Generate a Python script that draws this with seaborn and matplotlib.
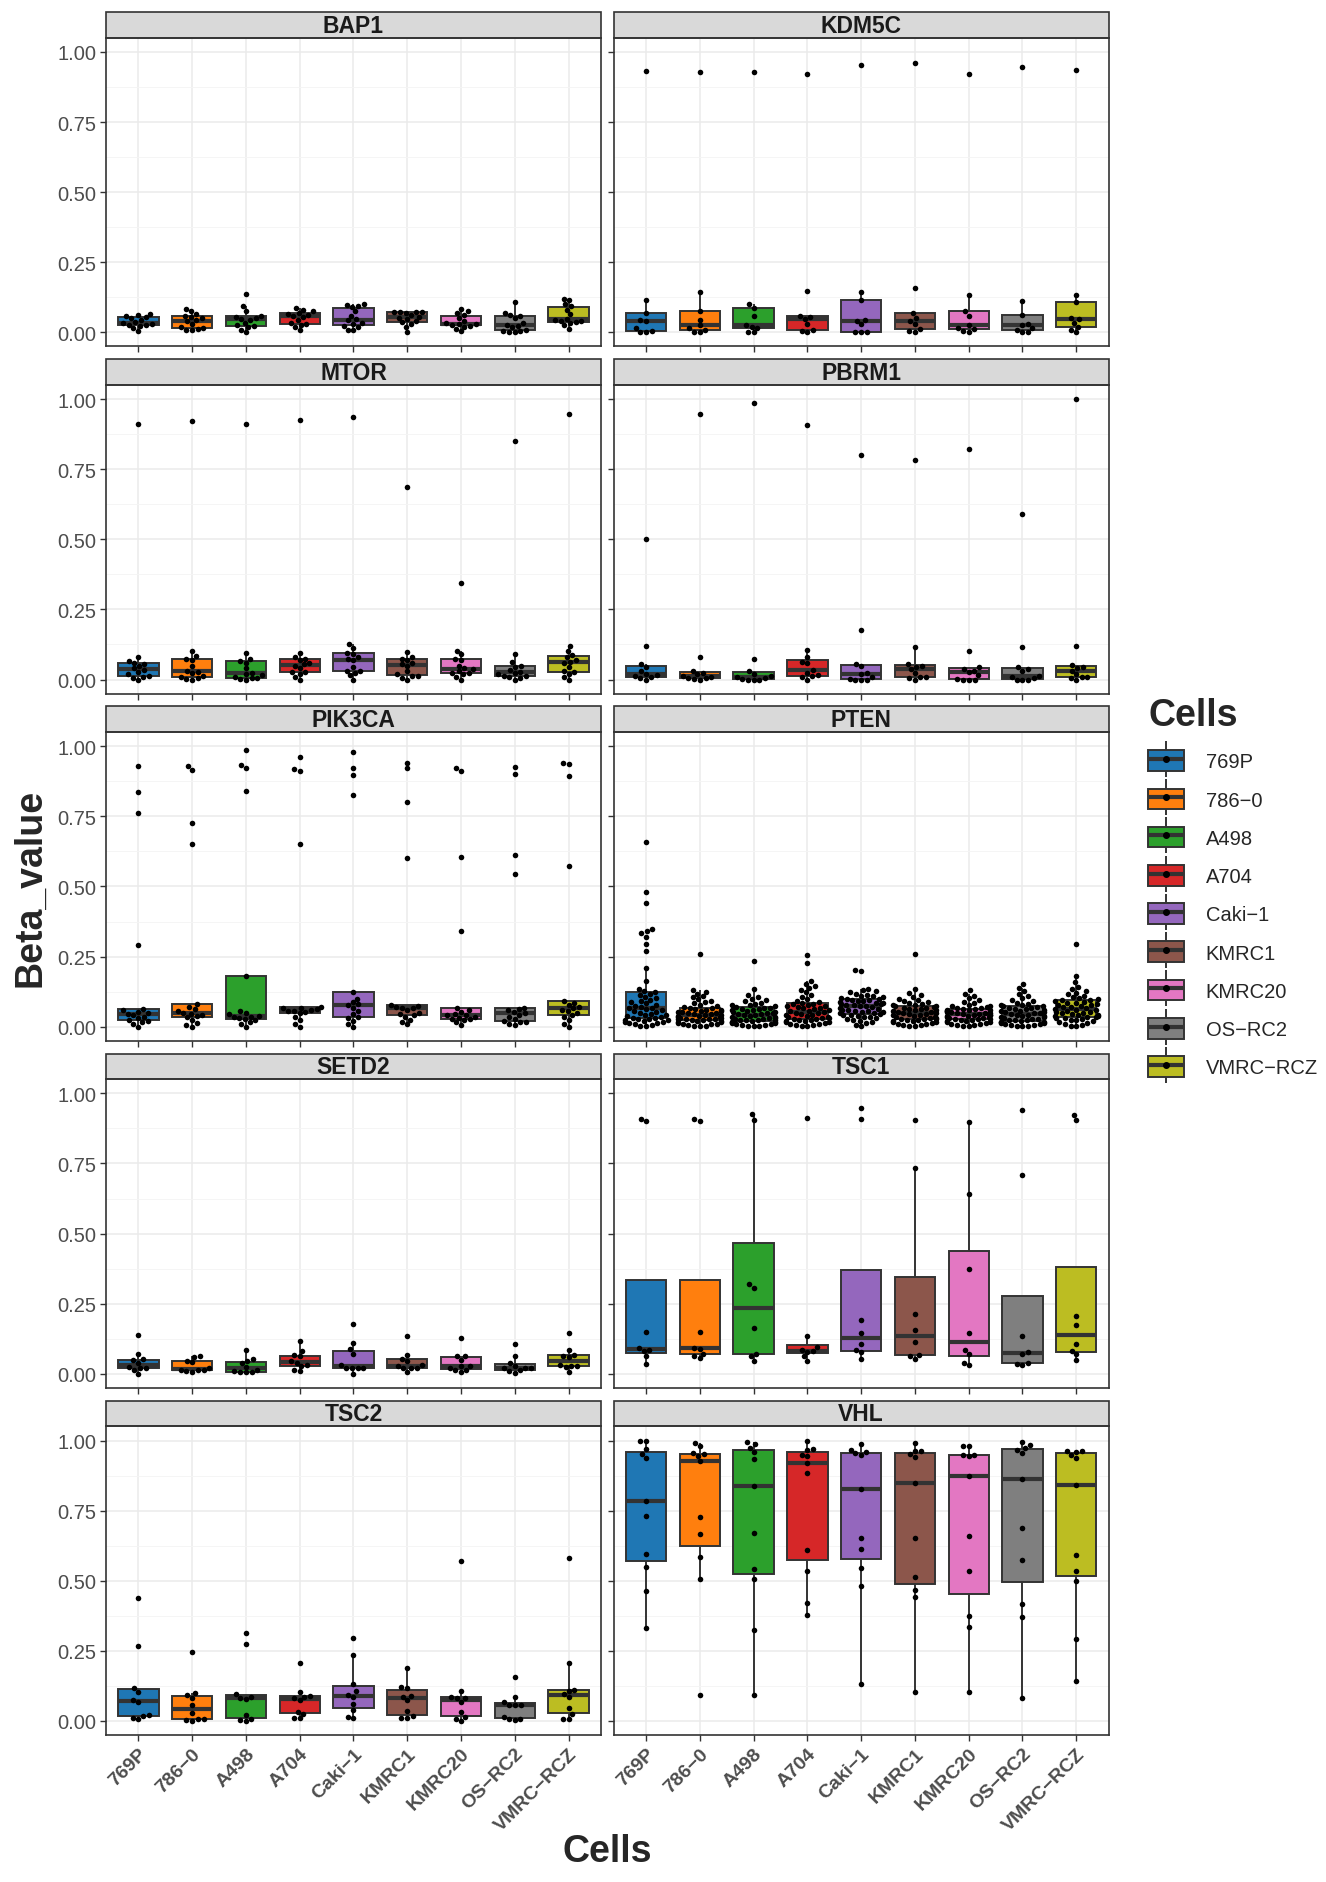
import numpy as np
import pandas as pd
import seaborn as sns
import matplotlib.pyplot as plt
from matplotlib.patches import Patch, Rectangle
from matplotlib.lines import Line2D

# cell lines and their fill colours (d3 palette)
cells = ['769P', '786−0', 'A498', 'A704', 'Caki−1', 'KMRC1', 'KMRC20', 'OS−RC2', 'VMRC−RCZ']
colors = ['#1F77B4', '#FF7F0E', '#2CA02C', '#D62728', '#9467BD',
          '#8C564B', '#E377C2', '#7F7F7F', '#BCBD22']
genes = ['BAP1', 'KDM5C', 'MTOR', 'PBRM1', 'PIK3CA', 'PTEN', 'SETD2', 'TSC1', 'TSC2', 'VHL']

# beta values per probe, one list per cell line (order as in `cells`)
bap1 = [
    [0.005, 0.015, 0.024, 0.027, 0.028, 0.030, 0.032, 0.036, 0.045, 0.050, 0.055, 0.058, 0.062, 0.066],
    [0.007, 0.010, 0.013, 0.015, 0.018, 0.030, 0.040, 0.044, 0.050, 0.055, 0.058, 0.065, 0.075, 0.084],
    [0.000, 0.010, 0.018, 0.022, 0.025, 0.035, 0.045, 0.049, 0.052, 0.055, 0.058, 0.078, 0.095, 0.138],
    [0.007, 0.020, 0.028, 0.031, 0.034, 0.045, 0.055, 0.059, 0.062, 0.065, 0.069, 0.075, 0.080, 0.087],
    [0.007, 0.010, 0.020, 0.024, 0.030, 0.035, 0.043, 0.047, 0.060, 0.075, 0.092, 0.095, 0.098, 0.101],
    [0.001, 0.020, 0.030, 0.036, 0.040, 0.048, 0.052, 0.056, 0.062, 0.068, 0.072, 0.073, 0.073, 0.074],
    [0.004, 0.012, 0.020, 0.024, 0.027, 0.029, 0.030, 0.032, 0.040, 0.050, 0.062, 0.068, 0.075, 0.084],
    [0.000, 0.002, 0.004, 0.006, 0.010, 0.018, 0.024, 0.026, 0.035, 0.050, 0.059, 0.062, 0.068, 0.110],
    [0.011, 0.025, 0.032, 0.036, 0.040, 0.042, 0.045, 0.049, 0.065, 0.080, 0.093, 0.100, 0.115, 0.119],
]
kdm5c = [
    [0.000, 0.002, 0.004, 0.015, 0.042, 0.045, 0.068, 0.114, 0.933],
    [0.000, 0.003, 0.007, 0.015, 0.025, 0.045, 0.075, 0.145, 0.928],
    [0.000, 0.002, 0.015, 0.020, 0.025, 0.060, 0.087, 0.101, 0.929],
    [0.000, 0.004, 0.009, 0.030, 0.048, 0.055, 0.060, 0.148, 0.922],
    [0.000, 0.000, 0.000, 0.030, 0.042, 0.045, 0.115, 0.143, 0.954],
    [0.000, 0.005, 0.012, 0.030, 0.042, 0.050, 0.068, 0.160, 0.962],
    [0.000, 0.004, 0.011, 0.015, 0.025, 0.060, 0.075, 0.133, 0.923],
    [0.000, 0.000, 0.007, 0.015, 0.025, 0.030, 0.062, 0.113, 0.946],
    [0.000, 0.010, 0.019, 0.035, 0.048, 0.050, 0.107, 0.133, 0.936],
]
mtor = [
    [0.000, 0.005, 0.010, 0.012, 0.018, 0.028, 0.035, 0.040, 0.048, 0.055, 0.060, 0.065, 0.079, 0.913],
    [0.000, 0.002, 0.006, 0.008, 0.012, 0.022, 0.028, 0.032, 0.050, 0.070, 0.074, 0.085, 0.103, 0.922],
    [0.000, 0.002, 0.004, 0.005, 0.008, 0.015, 0.020, 0.024, 0.040, 0.060, 0.067, 0.075, 0.094, 0.913],
    [0.000, 0.010, 0.020, 0.026, 0.028, 0.040, 0.050, 0.054, 0.060, 0.070, 0.074, 0.082, 0.094, 0.927],
    [0.000, 0.015, 0.025, 0.030, 0.032, 0.045, 0.068, 0.074, 0.080, 0.090, 0.094, 0.112, 0.126, 0.935],
    [0.000, 0.005, 0.012, 0.014, 0.018, 0.030, 0.050, 0.054, 0.060, 0.070, 0.074, 0.080, 0.099, 0.686],
    [0.000, 0.010, 0.018, 0.022, 0.024, 0.030, 0.036, 0.040, 0.050, 0.070, 0.074, 0.090, 0.103, 0.346],
    [0.000, 0.004, 0.008, 0.011, 0.012, 0.018, 0.024, 0.028, 0.035, 0.045, 0.048, 0.062, 0.091, 0.849],
    [0.000, 0.010, 0.020, 0.026, 0.030, 0.045, 0.058, 0.064, 0.070, 0.080, 0.087, 0.100, 0.118, 0.948],
]
pbrm1 = [
    [0.000, 0.004, 0.008, 0.012, 0.016, 0.020, 0.030, 0.045, 0.055, 0.120, 0.500],
    [0.000, 0.002, 0.004, 0.006, 0.010, 0.014, 0.018, 0.022, 0.030, 0.079, 0.948],
    [0.000, 0.000, 0.000, 0.001, 0.004, 0.008, 0.012, 0.020, 0.032, 0.073, 0.986],
    [0.000, 0.008, 0.012, 0.016, 0.025, 0.034, 0.060, 0.062, 0.080, 0.106, 0.908],
    [0.000, 0.000, 0.000, 0.002, 0.008, 0.020, 0.025, 0.050, 0.056, 0.177, 0.800],
    [0.000, 0.005, 0.008, 0.010, 0.025, 0.038, 0.045, 0.050, 0.056, 0.117, 0.782],
    [0.000, 0.000, 0.000, 0.002, 0.015, 0.026, 0.030, 0.036, 0.044, 0.100, 0.822],
    [0.000, 0.000, 0.000, 0.004, 0.010, 0.014, 0.030, 0.036, 0.044, 0.115, 0.590],
    [0.000, 0.005, 0.008, 0.010, 0.020, 0.032, 0.040, 0.045, 0.052, 0.120, 1.000],
]
pik3ca = [
    [0.000, 0.010, 0.015, 0.020, 0.024, 0.030, 0.035, 0.040, 0.044, 0.048, 0.052, 0.058, 0.064, 0.293, 0.761, 0.836, 0.928],
    [0.000, 0.005, 0.012, 0.025, 0.033, 0.038, 0.042, 0.046, 0.049, 0.055, 0.062, 0.070, 0.080, 0.651, 0.725, 0.914, 0.928],
    [0.000, 0.010, 0.015, 0.022, 0.028, 0.030, 0.033, 0.036, 0.038, 0.045, 0.050, 0.055, 0.182, 0.839, 0.922, 0.934, 0.987],
    [0.000, 0.010, 0.025, 0.035, 0.049, 0.052, 0.055, 0.057, 0.059, 0.062, 0.065, 0.068, 0.071, 0.653, 0.913, 0.918, 0.962],
    [0.000, 0.010, 0.020, 0.030, 0.033, 0.045, 0.055, 0.068, 0.076, 0.080, 0.088, 0.100, 0.124, 0.826, 0.896, 0.924, 0.978],
    [0.008, 0.015, 0.025, 0.035, 0.041, 0.045, 0.050, 0.060, 0.065, 0.068, 0.070, 0.073, 0.076, 0.600, 0.800, 0.921, 0.941],
    [0.005, 0.015, 0.022, 0.026, 0.029, 0.032, 0.036, 0.040, 0.041, 0.046, 0.052, 0.058, 0.065, 0.342, 0.605, 0.913, 0.922],
    [0.005, 0.010, 0.015, 0.018, 0.021, 0.028, 0.035, 0.042, 0.047, 0.052, 0.058, 0.063, 0.068, 0.544, 0.611, 0.900, 0.927],
    [0.000, 0.010, 0.025, 0.035, 0.041, 0.048, 0.055, 0.060, 0.065, 0.070, 0.078, 0.085, 0.091, 0.573, 0.894, 0.938, 0.942],
]
pten = [
    [0.659, 0.481, 0.441, 0.347, 0.341, 0.333, 0.321, 0.296, 0.269, 0.208, 0.162, 0.135, 0.127,
     0.122, 0.118, 0.112, 0.105, 0.101, 0.096, 0.091, 0.088, 0.083, 0.079, 0.075, 0.071, 0.068,
     0.065, 0.062, 0.058, 0.055, 0.052, 0.049, 0.046, 0.043, 0.040, 0.037, 0.034, 0.032, 0.030,
     0.028, 0.026, 0.024, 0.022, 0.020, 0.018, 0.016, 0.014, 0.012, 0.010, 0.007, 0.004, 0.002],
    [0.259, 0.130, 0.125, 0.118, 0.110, 0.104, 0.097, 0.092, 0.088, 0.083, 0.078, 0.074, 0.070,
     0.067, 0.065, 0.063, 0.061, 0.059, 0.057, 0.055, 0.053, 0.051, 0.049, 0.047, 0.045, 0.044,
     0.042, 0.040, 0.038, 0.037, 0.035, 0.033, 0.032, 0.030, 0.029, 0.028, 0.027, 0.026, 0.025,
     0.023, 0.021, 0.019, 0.017, 0.015, 0.013, 0.011, 0.009, 0.008, 0.006, 0.004, 0.002, 0.001],
    [0.235, 0.133, 0.112, 0.104, 0.099, 0.094, 0.090, 0.086, 0.082, 0.079, 0.076, 0.073, 0.070,
     0.068, 0.066, 0.064, 0.062, 0.060, 0.058, 0.056, 0.054, 0.052, 0.050, 0.048, 0.046, 0.044,
     0.042, 0.040, 0.038, 0.036, 0.034, 0.032, 0.030, 0.028, 0.027, 0.025, 0.024, 0.023, 0.022,
     0.020, 0.018, 0.017, 0.015, 0.013, 0.012, 0.010, 0.009, 0.007, 0.005, 0.004, 0.002, 0.001],
    [0.256, 0.228, 0.162, 0.153, 0.145, 0.138, 0.130, 0.122, 0.114, 0.106, 0.099, 0.093, 0.088,
     0.085, 0.082, 0.080, 0.077, 0.075, 0.072, 0.070, 0.067, 0.065, 0.062, 0.060, 0.057, 0.055,
     0.052, 0.050, 0.047, 0.045, 0.042, 0.040, 0.038, 0.036, 0.034, 0.032, 0.030, 0.028, 0.027,
     0.025, 0.023, 0.021, 0.019, 0.017, 0.015, 0.013, 0.011, 0.009, 0.007, 0.005, 0.003, 0.001],
    [0.201, 0.199, 0.135, 0.130, 0.126, 0.122, 0.118, 0.114, 0.111, 0.108, 0.105, 0.102, 0.100,
     0.098, 0.096, 0.094, 0.092, 0.090, 0.088, 0.086, 0.084, 0.082, 0.080, 0.078, 0.076, 0.074,
     0.072, 0.070, 0.067, 0.064, 0.061, 0.059, 0.057, 0.055, 0.053, 0.051, 0.049, 0.047, 0.045,
     0.043, 0.041, 0.039, 0.036, 0.033, 0.030, 0.027, 0.024, 0.020, 0.016, 0.012, 0.006, 0.001],
    [0.259, 0.135, 0.120, 0.112, 0.106, 0.100, 0.095, 0.091, 0.087, 0.084, 0.081, 0.078, 0.076,
     0.074, 0.072, 0.070, 0.068, 0.066, 0.064, 0.062, 0.060, 0.058, 0.056, 0.054, 0.052, 0.050,
     0.048, 0.046, 0.044, 0.042, 0.040, 0.038, 0.036, 0.034, 0.032, 0.030, 0.029, 0.028, 0.027,
     0.025, 0.023, 0.021, 0.019, 0.017, 0.015, 0.013, 0.011, 0.009, 0.007, 0.005, 0.003, 0.001],
    [0.130, 0.118, 0.110, 0.102, 0.095, 0.089, 0.084, 0.079, 0.075, 0.072, 0.069, 0.067, 0.065,
     0.064, 0.062, 0.061, 0.059, 0.058, 0.056, 0.055, 0.053, 0.052, 0.050, 0.049, 0.047, 0.046,
     0.044, 0.043, 0.041, 0.040, 0.038, 0.037, 0.035, 0.034, 0.032, 0.031, 0.029, 0.028, 0.027,
     0.025, 0.023, 0.021, 0.019, 0.017, 0.015, 0.013, 0.011, 0.009, 0.007, 0.005, 0.003, 0.001],
    [0.153, 0.138, 0.126, 0.116, 0.108, 0.101, 0.095, 0.090, 0.086, 0.082, 0.079, 0.077, 0.075,
     0.073, 0.071, 0.068, 0.066, 0.064, 0.062, 0.060, 0.057, 0.055, 0.053, 0.051, 0.049, 0.047,
     0.045, 0.043, 0.041, 0.039, 0.037, 0.035, 0.033, 0.031, 0.029, 0.027, 0.025, 0.023, 0.022,
     0.020, 0.018, 0.017, 0.015, 0.013, 0.012, 0.010, 0.008, 0.007, 0.005, 0.004, 0.002, 0.001],
    [0.294, 0.179, 0.159, 0.142, 0.135, 0.128, 0.121, 0.115, 0.110, 0.105, 0.101, 0.098, 0.096,
     0.094, 0.091, 0.089, 0.086, 0.084, 0.081, 0.079, 0.076, 0.074, 0.071, 0.069, 0.066, 0.064,
     0.061, 0.059, 0.056, 0.054, 0.051, 0.049, 0.047, 0.045, 0.043, 0.041, 0.039, 0.037, 0.036,
     0.034, 0.032, 0.030, 0.027, 0.025, 0.022, 0.019, 0.016, 0.013, 0.010, 0.007, 0.004, 0.001],
]
setd2 = [
    [0.001, 0.013, 0.020, 0.021, 0.025, 0.039, 0.048, 0.051, 0.072, 0.139],
    [0.006, 0.010, 0.012, 0.012, 0.013, 0.020, 0.041, 0.047, 0.060, 0.062],
    [0.005, 0.005, 0.007, 0.010, 0.013, 0.025, 0.039, 0.045, 0.051, 0.086],
    [0.009, 0.015, 0.028, 0.030, 0.040, 0.045, 0.062, 0.066, 0.080, 0.118],
    [0.000, 0.019, 0.020, 0.021, 0.022, 0.033, 0.070, 0.087, 0.110, 0.179],
    [0.006, 0.019, 0.020, 0.021, 0.028, 0.030, 0.045, 0.054, 0.068, 0.133],
    [0.006, 0.012, 0.014, 0.021, 0.026, 0.028, 0.048, 0.062, 0.063, 0.128],
    [0.004, 0.010, 0.012, 0.019, 0.020, 0.021, 0.029, 0.039, 0.063, 0.107],
    [0.008, 0.025, 0.027, 0.028, 0.030, 0.060, 0.063, 0.067, 0.086, 0.147],
]
tsc1 = [
    [0.036, 0.062, 0.080, 0.086, 0.092, 0.148, 0.900, 0.907],
    [0.056, 0.062, 0.072, 0.089, 0.092, 0.148, 0.901, 0.907],
    [0.045, 0.062, 0.072, 0.164, 0.307, 0.321, 0.906, 0.925],
    [0.046, 0.062, 0.079, 0.080, 0.086, 0.094, 0.133, 0.912],
    [0.053, 0.076, 0.084, 0.107, 0.145, 0.192, 0.909, 0.948],
    [0.054, 0.062, 0.067, 0.112, 0.155, 0.214, 0.735, 0.906],
    [0.031, 0.040, 0.069, 0.084, 0.145, 0.372, 0.641, 0.898],
    [0.033, 0.036, 0.039, 0.072, 0.078, 0.136, 0.708, 0.942],
    [0.049, 0.069, 0.082, 0.105, 0.173, 0.206, 0.904, 0.922],
]
tsc2 = [
    [0.007, 0.012, 0.017, 0.021, 0.068, 0.075, 0.104, 0.116, 0.267, 0.440],
    [0.000, 0.005, 0.006, 0.007, 0.028, 0.058, 0.081, 0.092, 0.099, 0.246],
    [0.000, 0.005, 0.007, 0.022, 0.078, 0.082, 0.085, 0.096, 0.273, 0.313],
    [0.011, 0.011, 0.026, 0.031, 0.075, 0.082, 0.087, 0.090, 0.103, 0.206],
    [0.012, 0.015, 0.040, 0.061, 0.087, 0.093, 0.105, 0.132, 0.236, 0.294],
    [0.012, 0.012, 0.019, 0.034, 0.075, 0.087, 0.090, 0.117, 0.120, 0.189],
    [0.000, 0.007, 0.014, 0.031, 0.068, 0.081, 0.081, 0.085, 0.105, 0.569],
    [0.002, 0.007, 0.007, 0.014, 0.055, 0.057, 0.058, 0.068, 0.085, 0.155],
    [0.007, 0.007, 0.024, 0.045, 0.086, 0.096, 0.108, 0.110, 0.205, 0.581],
]
vhl = [
    [0.331, 0.463, 0.548, 0.596, 0.731, 0.783, 0.938, 0.952, 0.969, 0.999, 1.000],
    [0.091, 0.506, 0.584, 0.667, 0.728, 0.926, 0.945, 0.951, 0.954, 0.982, 0.991],
    [0.092, 0.324, 0.507, 0.540, 0.671, 0.837, 0.934, 0.960, 0.975, 0.986, 0.993],
    [0.376, 0.419, 0.535, 0.610, 0.883, 0.919, 0.945, 0.950, 0.966, 0.968, 1.000],
    [0.132, 0.480, 0.546, 0.612, 0.651, 0.828, 0.950, 0.954, 0.960, 0.966, 0.988],
    [0.103, 0.442, 0.467, 0.513, 0.654, 0.850, 0.941, 0.952, 0.962, 0.963, 0.991],
    [0.103, 0.334, 0.373, 0.534, 0.658, 0.873, 0.946, 0.947, 0.950, 0.979, 0.982],
    [0.081, 0.370, 0.417, 0.573, 0.689, 0.861, 0.956, 0.966, 0.974, 0.983, 0.996],
    [0.143, 0.291, 0.498, 0.534, 0.591, 0.840, 0.939, 0.950, 0.960, 0.963, 0.964],
]

gene_values = {'BAP1': bap1, 'KDM5C': kdm5c, 'MTOR': mtor, 'PBRM1': pbrm1, 'PIK3CA': pik3ca,
               'PTEN': pten, 'SETD2': setd2, 'TSC1': tsc1, 'TSC2': tsc2, 'VHL': vhl}

rows = []
for g in genes:
    for c, vals in zip(cells, gene_values[g]):
        for v in vals:
            rows.append((g, c, v))
df = pd.DataFrame(rows, columns=['gene', 'Cells', 'Beta_value'])

sns.set_theme(style='white')
plt.rcParams['font.family'] = ['Liberation Sans', 'DejaVu Sans']

fig, axes = plt.subplots(5, 2, figsize=(13.26, 18.83), dpi=100, sharex=True, sharey=True)
fig.subplots_adjust(left=0.080, right=0.836, top=0.9793, bottom=0.0781,
                    hspace=0.1254, wspace=0.0263)

line_col = '#333333'
strip_h = 26 / 311
pt_size = 4.0

for ax, g in zip(axes.flat, genes):
    sub = df[df.gene == g]
    sns.boxplot(data=sub, x='Cells', y='Beta_value', hue='Cells', order=cells, hue_order=cells,
                palette=colors, saturation=1, dodge=False, width=0.75, linecolor=line_col,
                linewidth=1.4, showfliers=False, showcaps=False,
                medianprops=dict(linewidth=3.0, color=line_col),
                legend=False, ax=ax)
    sns.swarmplot(data=sub, x='Cells', y='Beta_value', order=cells, color='black',
                  size=pt_size, ax=ax)

    ax.set_xlim(-0.6, 8.6)
    ax.set_ylim(-0.05, 1.05)
    ax.set_yticks([0, 0.25, 0.5, 0.75, 1.0])
    ax.set_yticks([0.125, 0.375, 0.625, 0.875], minor=True)
    ax.set_yticklabels(['0.00', '0.25', '0.50', '0.75', '1.00'])
    ax.set_axisbelow(True)
    ax.grid(which='major', color='#EBEBEB', linewidth=1.1)
    ax.grid(which='minor', axis='y', color='#F4F4F4', linewidth=0.6)
    ax.tick_params(which='major', length=4, width=1, color=line_col, labelsize=14.5,
                   labelcolor='#4D4D4D', pad=3, left=True, bottom=True)
    ax.tick_params(which='minor', length=0)
    for s in ax.spines.values():
        s.set_color(line_col)
        s.set_linewidth(1.2)
    ax.set_xlabel('')
    ax.set_ylabel('')

    # ggplot-like facet strip
    ax.add_patch(Rectangle((0, 1), 1, strip_h, transform=ax.transAxes, clip_on=False,
                           facecolor='#D9D9D9', edgecolor=line_col, linewidth=1.2))
    ax.text(0.5, 1 + strip_h / 2, g, transform=ax.transAxes, ha='center', va='center',
            fontsize=16.5, fontweight='bold', color='#1A1A1A')

for ax in axes[-1]:
    ax.set_xticks(range(len(cells)))
    ax.set_xticklabels(cells, rotation=45, ha='right', va='top', rotation_mode='anchor',
                       fontweight='bold', fontsize=14, color='#4D4D4D')

fig.text(0.458, 0.0165, 'Cells', ha='center', va='center', fontsize=27, fontweight='bold')
fig.text(0.0226, 0.5287, 'Beta_value', ha='center', va='center', rotation=90,
         fontsize=27, fontweight='bold')

# legend keys: whisker, box, median and a point
handles = []
for col in colors:
    handles.append((
        Line2D([], [], color=line_col, marker='|', markersize=26, mew=1.4, linestyle='none'),
        Patch(facecolor=col, edgecolor=line_col, linewidth=1.4),
        Line2D([], [], color=line_col, marker='_', markersize=24, mew=3.0, linestyle='none'),
        Line2D([], [], color='black', marker='o', markersize=pt_size, linestyle='none'),
    ))
leg = fig.legend(handles, cells, title='Cells', loc='upper left',
                 bbox_to_anchor=(0.8597, 0.6335), frameon=False, fontsize=14.5,
                 title_fontproperties={'weight': 'bold', 'size': 27},
                 handlelength=1.8, handleheight=1.2, labelspacing=0.85,
                 handletextpad=1.07, borderaxespad=0, alignment='left')

fig.savefig('out.png', dpi=100)
